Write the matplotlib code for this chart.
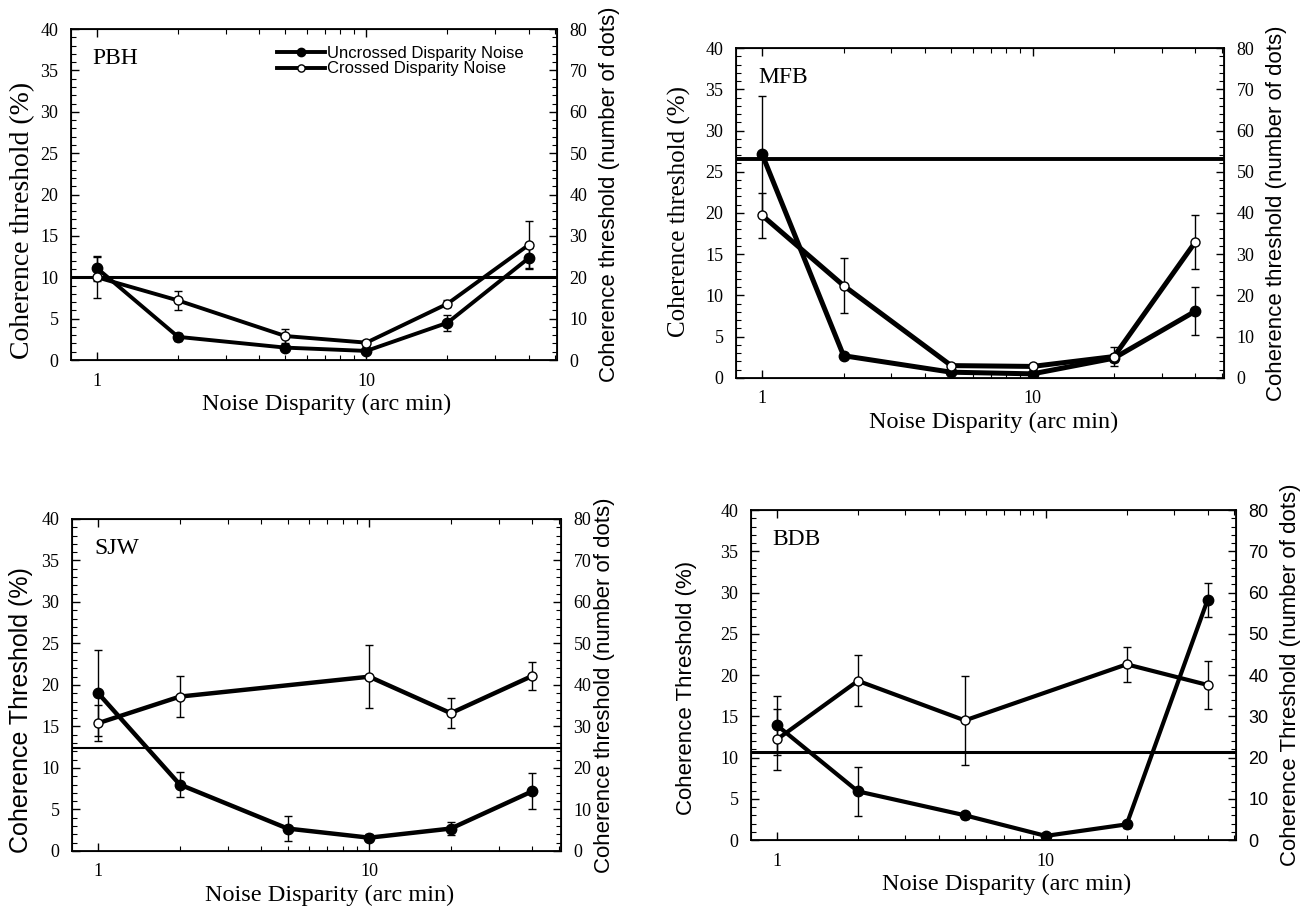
import matplotlib
matplotlib.use("Agg")
import matplotlib.pyplot as plt
from matplotlib.ticker import FixedLocator, NullFormatter, MultipleLocator

SERIF = "Liberation Serif"
SANS = "Liberation Sans"

# noise disparity (arc min)
disp = [1, 2, 5, 10, 20, 40]

# PBH
pbh_unc = [11.1, 2.8, 1.5, 1.1, 4.5, 12.3]
pbh_unc_err = [1.5, 0.5, 0.3, 0.3, 1.0, 1.2]
pbh_cro_x = [1, 2, 5, 10, 20, 40]
pbh_cro = [10.0, 7.2, 2.9, 2.1, 6.8, 13.9]
pbh_cro_err = [2.5, 1.1, 0.9, 0.3, 0.4, 2.9]
pbh_ref = 10.0

# MFB
mfb_unc = [27.1, 2.7, 0.7, 0.5, 2.4, 8.1]
mfb_unc_err = [7.1, 0.3, 0.2, 0.2, 0.5, 2.9]
mfb_cro_x = [1, 2, 5, 10, 20, 40]
mfb_cro = [19.7, 11.2, 1.5, 1.4, 2.6, 16.5]
mfb_cro_err = [2.7, 3.3, 0.2, 0.2, 1.2, 3.3]
mfb_ref = 26.6

# SJW
sjw_unc = [19.0, 8.0, 2.7, 1.6, 2.7, 7.2]
sjw_unc_err = [5.2, 1.5, 1.5, 0.4, 0.8, 2.2]
sjw_cro_x = [1, 2, 10, 20, 40]
sjw_cro = [15.4, 18.6, 21.0, 16.6, 21.1]
sjw_cro_err = [2.2, 2.5, 3.8, 1.8, 1.7]
sjw_ref = 12.4

# BDB
bdb_unc = [13.9, 5.9, 3.0, 0.5, 1.9, 29.1]
bdb_unc_err = [3.6, 3.0, 0.4, 0.3, 0.4, 2.1]
bdb_cro_x = [1, 2, 5, 20, 40]
bdb_cro = [12.2, 19.3, 14.5, 21.3, 18.8]
bdb_cro_err = [3.7, 3.1, 5.4, 2.1, 2.9]
bdb_ref = 10.7

x_ticks = [1, 10]
x_minor = [2, 3, 4, 5, 6, 7, 8, 9, 20, 30, 40, 50]


def panel(rect, name, unc, unc_err, cro_x, cro, cro_err, ref,
          lw, ref_lw, left_label, right_label, left_font, left_size, left_y,
          left_pad, right_tick_font, right_pad=8, legend=False):
    ax = fig.add_axes(rect)
    ax.axhline(ref, color="black", lw=ref_lw, zorder=1)

    ax.errorbar(disp, unc, yerr=unc_err, fmt="none", ecolor="black",
                elinewidth=1, capsize=3, capthick=1, zorder=2)
    ax.errorbar(cro_x, cro, yerr=cro_err, fmt="none", ecolor="black",
                elinewidth=1, capsize=3, capthick=1, zorder=2)
    ax.plot(disp, unc, color="black", lw=lw, marker="o", ms=7.5,
            mfc="black", mec="black", label="Uncrossed Disparity Noise", zorder=3)
    ax.plot(cro_x, cro, color="black", lw=lw, marker="o", ms=6.5,
            mfc="white", mec="black", mew=1, label="Crossed Disparity Noise", zorder=3)

    ax.set_xscale("log")
    ax.set_xlim(0.8, 51)
    ax.set_ylim(0, 40)
    ax.xaxis.set_major_locator(FixedLocator(x_ticks))
    ax.xaxis.set_minor_locator(FixedLocator(x_minor))
    ax.xaxis.set_minor_formatter(NullFormatter())
    ax.set_xticklabels(["1", "10"])
    ax.yaxis.set_major_locator(MultipleLocator(5))
    ax.yaxis.set_minor_locator(MultipleLocator(1))
    ax.tick_params(which="both", direction="in", top=True, right=False,
                   labelsize=13, pad=9)
    ax.tick_params(which="major", length=6, width=1)
    ax.tick_params(which="minor", length=3.5, width=0.8)
    for lab in ax.get_xticklabels() + ax.get_yticklabels():
        lab.set_fontfamily(SERIF)
    for s in ax.spines.values():
        s.set_linewidth(1.3)

    ax.set_xlabel("Noise Disparity (arc min)", fontsize=17.5, family=SERIF, labelpad=3)
    ax.xaxis.label.set_x(0.527)
    ax.set_ylabel(left_label, fontsize=left_size, family=left_font, labelpad=left_pad)
    ax.yaxis.label.set_y(left_y)
    ax.text(0.045, 0.91, name, transform=ax.transAxes, fontsize=17,
            family=SERIF, va="center", ha="left")

    ax2 = ax.twinx()
    ax2.set_ylim(0, 80)
    ax2.yaxis.set_major_locator(MultipleLocator(10))
    ax2.yaxis.set_minor_locator(MultipleLocator(2))
    ax2.tick_params(which="both", direction="in", labelsize=13, pad=9)
    ax2.tick_params(which="major", length=6, width=1)
    ax2.tick_params(which="minor", length=3.5, width=0.8)
    for lab in ax2.get_yticklabels():
        lab.set_fontfamily(right_tick_font)
    ax2.set_ylabel(right_label, fontsize=16, family=SANS, labelpad=right_pad)

    if legend:
        ax.legend(loc="upper left", bbox_to_anchor=(0.424, 0.95), frameon=False,
                  prop={"family": SANS, "size": 12}, handlelength=2.9,
                  handletextpad=0.1, labelspacing=0.05, numpoints=1,
                  markerscale=0.8, borderpad=0, borderaxespad=0)
    return ax


fig = plt.figure(figsize=(13.04, 9.11), dpi=100)

panel([0.0544, 0.6048, 0.3727, 0.3633], "PBH", pbh_unc, pbh_unc_err,
      pbh_cro_x, pbh_cro, pbh_cro_err, pbh_ref, 2.8, 2.2,
      "Coherence threshold (%)", "Coherence threshold (number of dots)",
      SERIF, 20, 0.423, 4, SERIF, legend=True)

panel([0.5644, 0.5851, 0.3742, 0.3622], "MFB", mfb_unc, mfb_unc_err,
      mfb_cro_x, mfb_cro, mfb_cro_err, mfb_ref, 3.6, 2.8,
      "Coherence threshold (%)", "Coherence threshold (number of dots)",
      SERIF, 18, 0.506, 10, SERIF)

panel([0.0552, 0.0659, 0.3750, 0.3644], "SJW", sjw_unc, sjw_unc_err,
      sjw_cro_x, sjw_cro, sjw_cro_err, sjw_ref, 3.2, 1.5,
      "Coherence Threshold (%)", "Coherence threshold (number of dots)",
      SANS, 18, 0.425, 6, SERIF, right_pad=2)

panel([0.5759, 0.0779, 0.3719, 0.3622], "BDB", bdb_unc, bdb_unc_err,
      bdb_cro_x, bdb_cro, bdb_cro_err, bdb_ref, 3.0, 2.2,
      "Coherence Threshold (%)", "Coherence Threshold (number of dots)",
      SANS, 16, 0.46, 17, SANS)

fig.savefig("out.png", dpi=100)
